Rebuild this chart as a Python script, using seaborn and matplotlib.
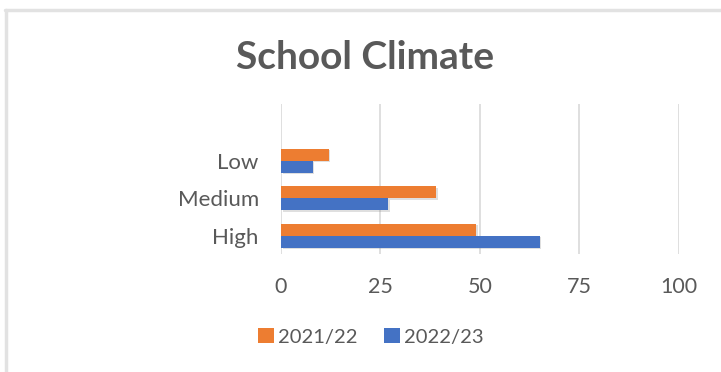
import matplotlib
matplotlib.use("Agg")
import matplotlib.pyplot as plt
import matplotlib.patheffects as pe
import seaborn as sns
import pandas as pd
from matplotlib.lines import Line2D
from matplotlib.patches import Patch

categories = ["Low", "Medium", "High"]
series_names = ["2021/22", "2022/23"]
values_2021_22 = [12, 39, 49]
values_2022_23 = [8, 27, 65]
x_ticks = [0, 25, 50, 75, 100]
title = "School Climate"

colors = {"2021/22": "#ED7D31", "2022/23": "#4472C4"}
text_color = "#595959"
grid_color = "#D9D9D9"

rows = []
for c, v in zip(categories, values_2021_22):
    rows.append({"category": c, "year": "2021/22", "value": v})
for c, v in zip(categories, values_2022_23):
    rows.append({"category": c, "year": "2022/23", "value": v})
df = pd.DataFrame(rows)

sns.set_theme(style="white")
plt.rcParams["font.family"] = ["Lato", "DejaVu Sans"]

fig = plt.figure(figsize=(7.21, 3.72), dpi=100)
fig.patch.set_facecolor("white")
ax = fig.add_axes([0.3897, 0.3164, 0.552, 0.4032])

sns.barplot(data=df, y="category", x="value", hue="year", order=categories,
            hue_order=series_names, palette=colors, width=0.64, orient="h",
            ax=ax, legend=False, saturation=1, linewidth=0)

for p in ax.patches:
    p.set_path_effects([pe.SimplePatchShadow(offset=(1.2, -1.2), shadow_rgbFace="#808080",
                                             alpha=0.25), pe.Normal()])

ax.set_xlim(0, 100)
ax.set_ylim(2.5, -1.5)
ax.set_xticks(x_ticks)
ax.set_xticklabels([str(t) for t in x_ticks])
ax.set_yticks(range(len(categories)))
ax.set_yticklabels(categories)
ax.set_xlabel("")
ax.set_ylabel("")
for s in ax.spines.values():
    s.set_visible(False)
ax.grid(False)
for t in x_ticks:
    ax.axvline(t, color=grid_color, lw=1.2, zorder=0)
ax.set_axisbelow(True)
ax.tick_params(axis="x", length=0, pad=16, labelsize=15.5, labelcolor=text_color)
ax.tick_params(axis="y", length=0, pad=16, labelsize=16, labelcolor=text_color)

fig.text(0.506, 0.845, title, ha="center", va="center", fontsize=28,
         fontweight="bold", color=text_color)

handles = [Patch(facecolor=colors[n], edgecolor="none", label=n) for n in series_names]
fig.legend(handles=handles, loc="center", bbox_to_anchor=(0.514, 0.095), ncol=2,
           frameon=False, fontsize=14.5, labelcolor=text_color, handlelength=0.8,
           handleheight=0.8, handletextpad=0.2, columnspacing=1.3)

# chart frame
fig.add_artist(Line2D([0.0090, 0.0090], [0.0, 0.9718], transform=fig.transFigure,
                      color="#E2E2E2", lw=2.5))
fig.add_artist(Line2D([0.0075, 1.0], [0.9718, 0.9718], transform=fig.transFigure,
                      color="#E2E2E2", lw=2.5))

fig.savefig("out.png", dpi=100, facecolor="white")
